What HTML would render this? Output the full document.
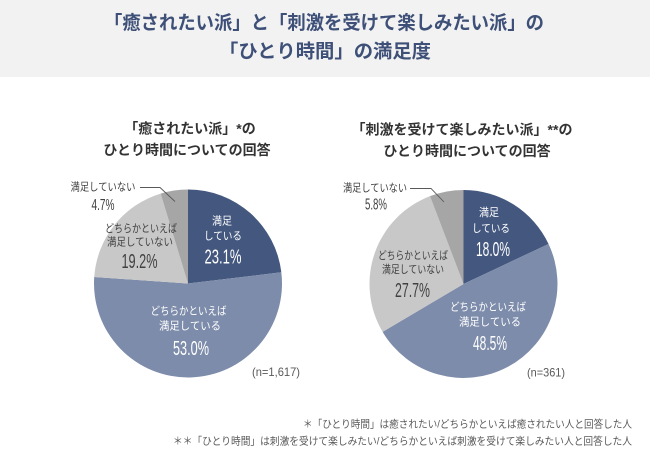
<!DOCTYPE html>
<html>
<head>
<meta charset="utf-8">
<style>
html,body{margin:0;padding:0;background:#fff;}
svg{display:block;}
.jp{font-family:"Liberation Sans","Noto Sans CJK JP",sans-serif;}
.num{font-family:"Liberation Sans",sans-serif;}
</style>
</head>
<body>
<svg width="650" height="467" viewBox="0 0 650 467" xmlns="http://www.w3.org/2000/svg">
  <rect x="0" y="0" width="650" height="467" fill="#ffffff"/>
  <rect x="0" y="0" width="650" height="77" fill="#f2f2f2"/>

  <!-- Title -->
  <g class="jp" font-weight="bold" font-size="19" fill="#3e5078" text-anchor="middle" dominant-baseline="central">
    <text x="324" y="23.5" textLength="440" lengthAdjust="spacingAndGlyphs">「癒されたい派」と「刺激を受けて楽しみたい派」の</text>
    <text x="325" y="52" textLength="212" lengthAdjust="spacingAndGlyphs">「ひとり時間」の満足度</text>
  </g>

  <!-- Subtitles -->
  <g class="jp" font-weight="bold" font-size="14" fill="#333333" text-anchor="middle" dominant-baseline="central">
    <text x="190" y="128.5">「癒されたい派」*の</text>
    <text x="187" y="150">ひとり時間についての回答</text>
    <text x="462" y="129.5">「刺激を受けて楽しみたい派」**の</text>
    <text x="467" y="151">ひとり時間についての回答</text>
  </g>

  <!-- Pie 1 -->
  <g>
    <path d="M188,283.5 L188,189.5 A94,94 0 0 1 281.33,272.30 Z" fill="#44587f"/>
    <path d="M188,283.5 L281.33,272.30 A94,94 0 1 1 94.22,277.01 Z" fill="#7d8caa"/>
    <path d="M188,283.5 L94.22,277.01 A94,94 0 0 1 160.65,193.57 Z" fill="#c8c8c8"/>
    <path d="M188,283.5 L160.65,193.57 A94,94 0 0 1 188,189.5 Z" fill="#a6a6a6"/>
  </g>

  <!-- Pie 2 -->
  <g>
    <path d="M463.5,284 L463.5,190 A94,94 0 0 1 548.55,243.98 Z" fill="#44587f"/>
    <path d="M463.5,284 L548.55,243.98 A94,94 0 0 1 382.59,331.85 Z" fill="#7d8caa"/>
    <path d="M463.5,284 L382.59,331.85 A94,94 0 0 1 430.00,196.17 Z" fill="#c8c8c8"/>
    <path d="M463.5,284 L430.00,196.17 A94,94 0 0 1 463.5,190 Z" fill="#a6a6a6"/>
  </g>

  <!-- Leader lines -->
  <polyline points="140,187.5 160,187.5 175,201.5" fill="none" stroke="#595959" stroke-width="0.9"/>
  <polyline points="410,188.5 431,188.5 444,202" fill="none" stroke="#595959" stroke-width="0.9"/>

  <!-- Pie 1 labels -->
  <g class="jp" font-size="11" text-anchor="middle" dominant-baseline="central">
    <text x="222" y="221.5" fill="#ffffff" textLength="20" lengthAdjust="spacingAndGlyphs">満足</text>
    <text x="223" y="236.5" fill="#ffffff" textLength="38" lengthAdjust="spacingAndGlyphs">している</text>
    <text x="141" y="229" fill="#404040" textLength="72" lengthAdjust="spacingAndGlyphs">どちらかといえば</text>
    <text x="140" y="242.5" fill="#404040" textLength="66" lengthAdjust="spacingAndGlyphs">満足していない</text>
    <text x="188.5" y="311.5" fill="#ffffff" textLength="76" lengthAdjust="spacingAndGlyphs">どちらかといえば</text>
    <text x="190" y="326.5" fill="#ffffff" textLength="62" lengthAdjust="spacingAndGlyphs">満足している</text>
    <text x="103" y="187.5" fill="#404040" textLength="65" lengthAdjust="spacingAndGlyphs">満足していない</text>
  </g>
  <g class="num" text-anchor="middle">
    <text x="223" y="263.5" font-size="20" fill="#ffffff" textLength="37" lengthAdjust="spacingAndGlyphs">23.1%</text>
    <text x="139.5" y="268" font-size="20" fill="#404040" textLength="36" lengthAdjust="spacingAndGlyphs">19.2%</text>
    <text x="191" y="355" font-size="20" fill="#ffffff" textLength="36" lengthAdjust="spacingAndGlyphs">53.0%</text>
    <text x="103" y="210" font-size="16" fill="#404040" textLength="23" lengthAdjust="spacingAndGlyphs">4.7%</text>
    <text x="276" y="376" font-size="12" fill="#595959" textLength="48" lengthAdjust="spacingAndGlyphs">(n=1,617)</text>
  </g>

  <!-- Pie 2 labels -->
  <g class="jp" font-size="11" text-anchor="middle" dominant-baseline="central">
    <text x="489" y="213" fill="#ffffff" textLength="20" lengthAdjust="spacingAndGlyphs">満足</text>
    <text x="491" y="229" fill="#ffffff" textLength="38" lengthAdjust="spacingAndGlyphs">している</text>
    <text x="413" y="256" fill="#404040" textLength="70" lengthAdjust="spacingAndGlyphs">どちらかといえば</text>
    <text x="413" y="270" fill="#404040" textLength="62" lengthAdjust="spacingAndGlyphs">満足していない</text>
    <text x="488" y="307.5" fill="#ffffff" textLength="76" lengthAdjust="spacingAndGlyphs">どちらかといえば</text>
    <text x="490" y="322.5" fill="#ffffff" textLength="62" lengthAdjust="spacingAndGlyphs">満足している</text>
    <text x="375" y="188.5" fill="#404040" textLength="64" lengthAdjust="spacingAndGlyphs">満足していない</text>
  </g>
  <g class="num" text-anchor="middle">
    <text x="493" y="256" font-size="20" fill="#ffffff" textLength="34" lengthAdjust="spacingAndGlyphs">18.0%</text>
    <text x="412.5" y="297" font-size="20" fill="#404040" textLength="35" lengthAdjust="spacingAndGlyphs">27.7%</text>
    <text x="490" y="350" font-size="20" fill="#ffffff" textLength="34" lengthAdjust="spacingAndGlyphs">48.5%</text>
    <text x="376" y="209.5" font-size="16" fill="#404040" textLength="22" lengthAdjust="spacingAndGlyphs">5.8%</text>
    <text x="546" y="376.5" font-size="12" fill="#595959" textLength="38" lengthAdjust="spacingAndGlyphs">(n=361)</text>
  </g>

  <!-- Footnotes -->
  <g class="jp" font-size="10.5" fill="#595959" text-anchor="end" dominant-baseline="central">
    <text x="632" y="424.5" textLength="329" lengthAdjust="spacingAndGlyphs">＊「ひとり時間」は癒されたい/どちらかといえば癒されたい人と回答した人</text>
    <text x="632" y="441.5" textLength="459" lengthAdjust="spacingAndGlyphs">＊＊「ひとり時間」は刺激を受けて楽しみたい/どちらかといえば刺激を受けて楽しみたい人と回答した人</text>
  </g>
</svg>
</body>
</html>
